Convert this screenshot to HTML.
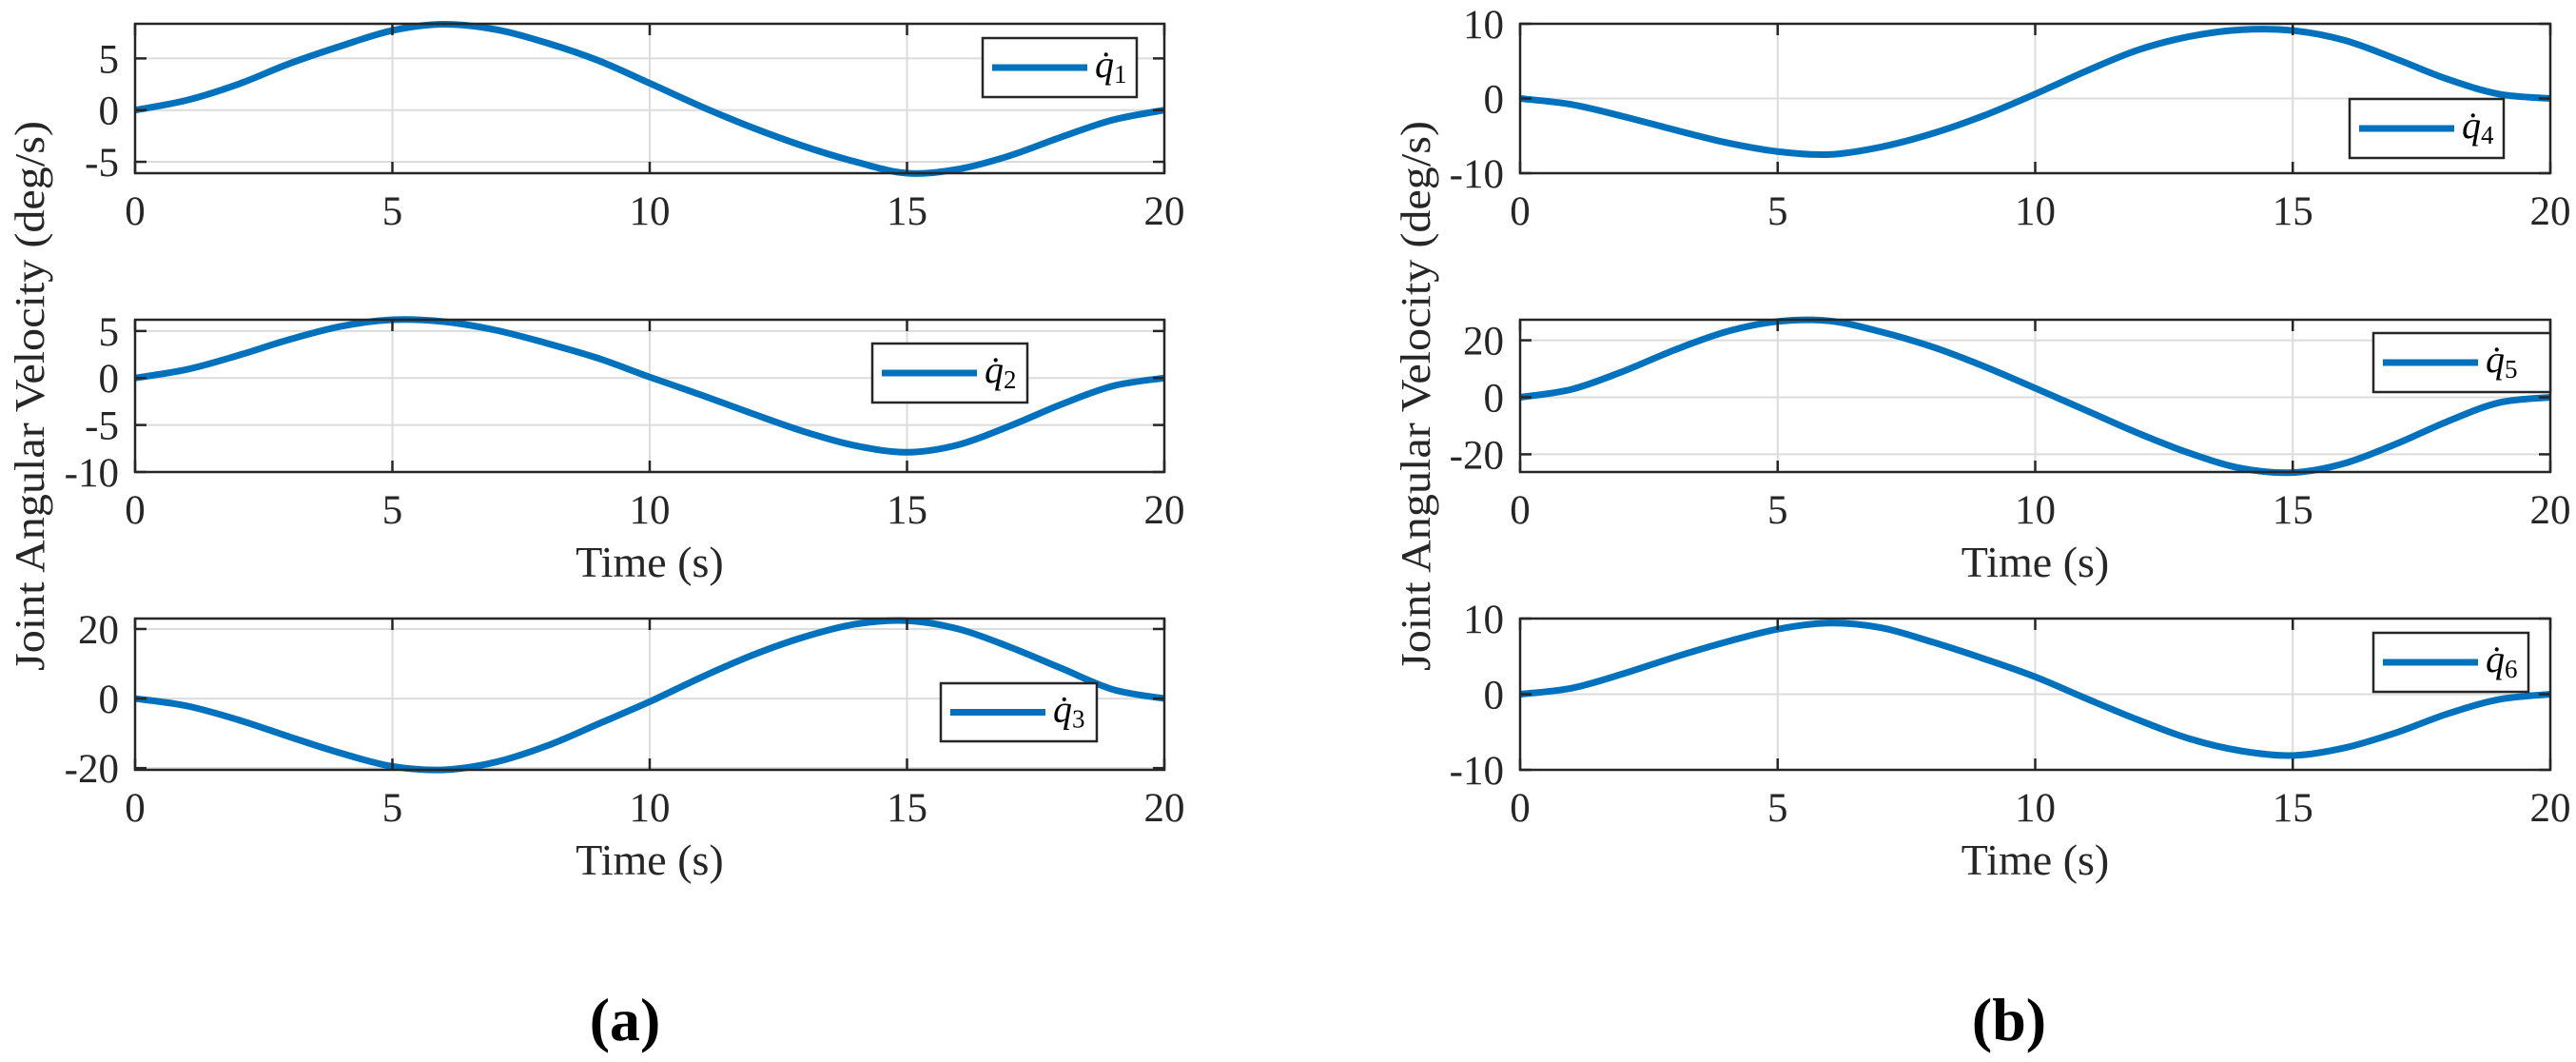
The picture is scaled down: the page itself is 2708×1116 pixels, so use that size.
<!DOCTYPE html>
<html><head><meta charset="utf-8"><style>
html,body{margin:0;padding:0;background:#fff;}
svg{display:block;font-family:"Liberation Serif",serif;}
</style></head><body>
<svg id="fig" width="2708" height="1116" viewBox="0 0 2708 1116" xmlns="http://www.w3.org/2000/svg">
<text x="0" y="0" transform="translate(46,416) rotate(-90)" text-anchor="middle" font-size="44" fill="#262626" textLength="578" lengthAdjust="spacingAndGlyphs">Joint Angular Velocity (deg/s)</text>
<text x="0" y="0" transform="translate(1503,416) rotate(-90)" text-anchor="middle" font-size="44" fill="#262626" textLength="578" lengthAdjust="spacingAndGlyphs">Joint Angular Velocity (deg/s)</text>
<text x="657" y="1093" text-anchor="middle" font-size="64" font-weight="bold" fill="#000">(a)</text>
<text x="2112" y="1093" text-anchor="middle" font-size="64" font-weight="bold" fill="#000">(b)</text>
</svg>
<script>
const times = [0,1,2,3,4,5,6,7,8,9,10,11,12,13,14,15,16,17,18,19,20];
const q1 = [0,0.95,2.5,4.5,6.2,7.7,8.3,7.8,6.5,4.8,2.6,0.35,-1.7,-3.5,-5.0,-6.1,-5.7,-4.4,-2.6,-0.95,0];
const q2 = [0,0.9,2.4,4.1,5.5,6.2,6.0,5.1,3.7,2.1,0.1,-1.8,-3.8,-5.7,-7.2,-7.9,-7.1,-5.1,-2.8,-0.85,0];
const q3 = [0,-2.1,-6.1,-11,-15.7,-19.5,-20.5,-18.3,-13.6,-7.3,-0.9,6.1,12.5,17.7,21.4,22.4,20,14.8,8.7,2.6,0];
const q4 = [0,-0.8,-2.4,-4.2,-5.9,-7.1,-7.5,-6.5,-4.7,-2.3,0.6,3.7,6.5,8.3,9.2,9.1,7.8,5.3,2.6,0.6,0];
const q5 = [0,2.8,9.1,16.6,23,26.6,26.8,23,17.7,10.9,3.2,-4.7,-12.6,-19.6,-24.9,-26.4,-23.2,-16.4,-8.5,-1.9,0];
const q6 = [0,0.8,2.7,4.9,6.9,8.6,9.4,8.8,6.9,4.7,2.3,-0.6,-3.4,-5.9,-7.5,-8.1,-7.1,-5.1,-2.6,-0.7,0];
const xTicks = [0,5,10,15,20];
const yTicks1 = [-5,0,5];
const yTicks2 = [-10,-5,0,5];
const yTicks3 = [-20,0,20];
const yTicks4 = [-10,0,10];
const yTicks5 = [-20,0,20];
const yTicks6 = [-10,0,10];
const yLims = [[-6.1,8.35],[-10,6.2],[-20.5,23],[-10,10],[-26.2,27.2],[-10,10]];
const legendNames = ["1","2","3","4","5","6"];

const NS = "http://www.w3.org/2000/svg";
const svg = document.getElementById('fig');
function mk(tag, attrs, parent){const e=document.createElementNS(NS,tag);for(const k in attrs)e.setAttribute(k,attrs[k]);(parent||svg).appendChild(e);return e;}

const panels = [
 {series:q1,ticks:yTicks1,lim:yLims[0],L:142,R:1224,T:25,B:182,leg:[1033,40,162,62],xlab:false},
 {series:q2,ticks:yTicks2,lim:yLims[1],L:142,R:1224,T:336,B:496,leg:[917,361,163,62],xlab:true},
 {series:q3,ticks:yTicks3,lim:yLims[2],L:142,R:1224,T:650,B:809,leg:[989,718,164,61],xlab:true},
 {series:q4,ticks:yTicks4,lim:yLims[3],L:1598,R:2681,T:25,B:182,leg:[2470,104,162,62],xlab:false},
 {series:q5,ticks:yTicks5,lim:yLims[4],L:1598,R:2681,T:336,B:496,leg:[2495,350,186,62],xlab:true},
 {series:q6,ticks:yTicks6,lim:yLims[5],L:1598,R:2681,T:650,B:809,leg:[2495,665,163,62],xlab:true}
];

panels.forEach((p,i)=>{
  const g = mk('g',{});
  
  
  const xs = t => p.L + (t-0)/(20-0)*(p.R-p.L);
  const ys = v => p.B - (v-p.lim[0])/(p.lim[1]-p.lim[0])*(p.B-p.T);
  // grid
  xTicks.forEach(t=>{
    const l=mk('line',{x1:xs(t),x2:xs(t),y1:p.T,y2:p.B,stroke:'#dcdcdc','stroke-width':2},g);
    
    
  });
  p.ticks.forEach(v=>{
    const l=mk('line',{x1:p.L,x2:p.R,y1:ys(v),y2:ys(v),stroke:'#dcdcdc','stroke-width':2},g);
    
    
  });
  // series path (Catmull-Rom)
  const pts = times.map((t,k)=>[xs(t),ys(p.series[k])]);
  let d = 'M'+pts[0][0]+','+pts[0][1];
  for(let k=0;k<pts.length-1;k++){
    const p0=pts[k-1]||pts[k], p1=pts[k], p2=pts[k+1], p3=pts[k+2]||pts[k+1];
    const c1=[p1[0]+(p2[0]-p0[0])/6, p1[1]+(p2[1]-p0[1])/6];
    const c2=[p2[0]-(p3[0]-p1[0])/6, p2[1]-(p3[1]-p1[1])/6];
    d+=' C'+c1[0]+','+c1[1]+' '+c2[0]+','+c2[1]+' '+p2[0]+','+p2[1];
  }
  const path = mk('path',{d:d,fill:'none',stroke:'#0072bd','stroke-width':7,'stroke-linejoin':'round'},g);
  
  
  // ticks
  xTicks.forEach(t=>{
    mk('line',{x1:xs(t),x2:xs(t),y1:p.B,y2:p.B-12,stroke:'#262626','stroke-width':2.5},g);
    mk('line',{x1:xs(t),x2:xs(t),y1:p.T,y2:p.T+12,stroke:'#262626','stroke-width':2.5},g);
    const tx=mk('text',{x:xs(t),y:p.B+54,'text-anchor':'middle','font-size':43,fill:'#262626'},g);
    
    
    tx.textContent=String(t);
  });
  p.ticks.forEach(v=>{
    mk('line',{x1:p.L,x2:p.L+12,y1:ys(v),y2:ys(v),stroke:'#262626','stroke-width':2.5},g);
    mk('line',{x1:p.R,x2:p.R-12,y1:ys(v),y2:ys(v),stroke:'#262626','stroke-width':2.5},g);
    const tx=mk('text',{x:p.L-17,y:ys(v)+15,'text-anchor':'end','font-size':43,fill:'#262626'},g);
    
    
    tx.textContent=String(v).replace('-','-');
  });
  // box
  const box=mk('rect',{x:p.L,y:p.T,width:p.R-p.L,height:p.B-p.T,fill:'none',stroke:'#262626','stroke-width':2.5},g);
  
  
  // x label
  if(p.xlab){
    const xl=mk('text',{x:(p.L+p.R)/2,y:p.B+110,'text-anchor':'middle','font-size':46,fill:'#262626'},g);
    
    
    xl.textContent='Time (s)';
  }
  // legend
  const [lx,ly,lw,lh]=p.leg;
  const lg=mk('g',{},g);
  
  
  mk('rect',{x:lx,y:ly,width:lw,height:lh,fill:'#fff',stroke:'#262626','stroke-width':2.5},lg);
  mk('line',{x1:lx+10,x2:lx+110,y1:ly+lh/2,y2:ly+lh/2,stroke:'#0072bd','stroke-width':7},lg);
  const lt=mk('text',{x:lx+118,y:ly+lh/2+10,'font-size':40,fill:'#000'},lg);
  
  
  const q=mk('tspan',{'font-style':'italic'},lt); q.textContent='q\u0307';
  const s=mk('tspan',{'font-size':27,dy:6},lt); s.textContent=legendNames[i];
});
</script>
</body></html>
